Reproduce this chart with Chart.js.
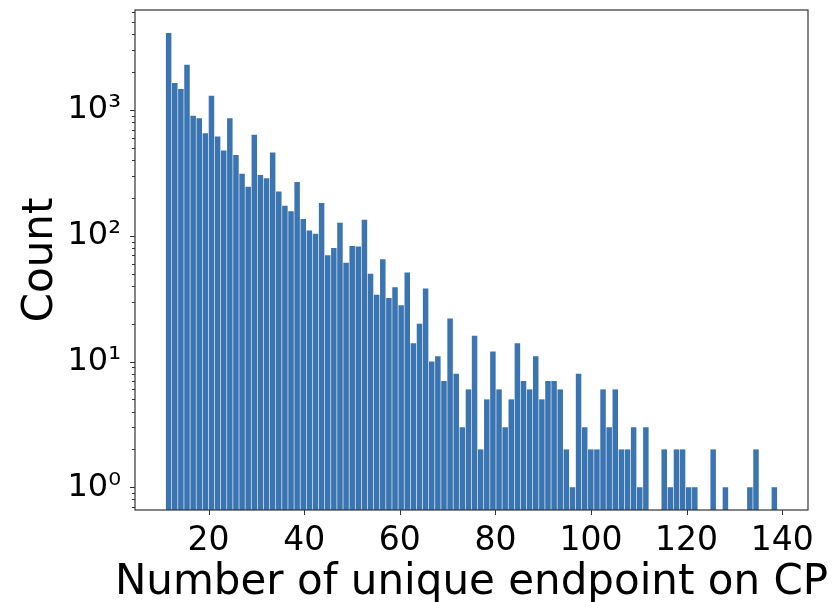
<!DOCTYPE html>
<html>
<head>
<meta charset="utf-8">
<script src="https://cdn.jsdelivr.net/npm/chart.js@4.4.0/dist/chart.umd.min.js"></script>
<style>
  html, body { margin: 0; padding: 0; background: #fff; }
  #wrap { width: 832px; height: 602px; }
</style>
</head>
<body>
<div id="wrap"><canvas id="endpoint-hist" width="832" height="602"></canvas></div>
<script>
  // histogram: 100 bins between 11 and 139
  const binLow = 11;
  const binHigh = 139;
  const nBins = 100;

  const counts = [
    4100, 1640, 1470, 2290, 900, 860, 655, 1300, 615, 476,
    861, 440, 311, 246, 635, 305, 287, 459, 225, 173,
    157, 268, 136, 110, 104, 182, 70, 80, 127, 61,
    83, 82, 134, 50, 34, 65, 32, 39, 28, 51,
    14, 20, 38, 10, 11, 7, 22, 8, 3, 6,
    16, 2, 5, 12, 6, 3, 5, 14, 7, 6,
    11, 5, 7, 7, 6, 2, 1, 8, 3, 2,
    2, 6, 3, 6, 2, 2, 3, 1, 3, 0,
    0, 2, 1, 2, 2, 1, 1, 0, 0, 2,
    0, 1, 0, 0, 0, 1, 2, 0, 0, 1
  ];

  const xTicks = [20, 40, 60, 80, 100, 120, 140];
  const yTicks = [1, 10, 100, 1000];
  const yTickLabels = ['10\u2070', '10\u00b9', '10\u00b2', '10\u00b3'];

  const xTitle = 'Number of unique endpoint on CP';
  const yTitle = 'Count';

  const binWidth = (binHigh - binLow) / nBins;
  const binCenters = counts.map((c, i) => binLow + binWidth * (i + 0.5));

  const FONT = "'DejaVu Sans', sans-serif";
  const barColor = 'rgb(58, 117, 178)';

  function noScalePadding(scale) {
    scale.paddingTop = 0;
    scale.paddingBottom = 0;
    scale.paddingLeft = 0;
    scale.paddingRight = 0;
  }

  // frame, tick marks and axis titles, matplotlib style
  const mplAxes = {
    id: 'mplAxes',
    afterDraw(chart) {
      const c = chart.ctx;
      const a = chart.chartArea;
      const xs = chart.scales.x;
      const ys = chart.scales.y;
      c.save();
      c.strokeStyle = '#333';
      c.lineWidth = 1.2;
      c.strokeRect(a.left, a.top, a.right - a.left, a.bottom - a.top);

      c.lineWidth = 1;
      c.beginPath();
      xTicks.forEach(v => {
        const px = Math.round(xs.getPixelForValue(v)) + 0.5;
        c.moveTo(px, a.bottom);
        c.lineTo(px, a.bottom + 5);
      });
      for (let k = -1; k <= 3; k++) {
        for (let m = 1; m <= 9; m++) {
          const v = m * Math.pow(10, k);
          if (v < ys.min || v > ys.max) continue;
          const py = Math.round(ys.getPixelForValue(v)) + 0.5;
          c.moveTo(a.left, py);
          c.lineTo(a.left - (m === 1 ? 5 : 3), py);
        }
      }
      c.stroke();

      c.fillStyle = '#000';
      c.font = '42px ' + FONT;
      c.textAlign = 'center';
      c.textBaseline = 'alphabetic';
      c.fillText(xTitle, (a.left + a.right) / 2, 594);

      c.translate(52, (a.top + a.bottom) / 2);
      c.rotate(-Math.PI / 2);
      c.fillText(yTitle, 0, 0);
      c.restore();
    }
  };

  new Chart(document.getElementById('endpoint-hist'), {
    type: 'bar',
    data: {
      labels: binCenters,
      datasets: [{
        data: binCenters.map((x, i) => ({ x: x, y: counts[i] })),
        backgroundColor: barColor,
        borderWidth: 0,
        barPercentage: 0.9,
        categoryPercentage: 1.0
      }]
    },
    options: {
      responsive: false,
      animation: false,
      events: [],
      layout: { padding: { top: 10, right: 24, left: 0, bottom: 0 } },
      plugins: { legend: { display: false }, tooltip: { enabled: false } },
      scales: {
        x: {
          type: 'linear',
          offset: false,
          min: 4.6,
          max: 145.4,
          grid: { display: false, drawTicks: false, offset: false },
          border: { display: false },
          afterBuildTicks: (scale) => { scale.ticks = xTicks.map(v => ({ value: v })); },
          afterFit: (scale) => { scale.height = 92; noScalePadding(scale); },
          ticks: {
            autoSkip: false,
            maxRotation: 0,
            padding: 12,
            color: '#000',
            font: { family: FONT, size: 33 },
            callback: (v) => String(v)
          }
        },
        y: {
          type: 'logarithmic',
          min: 0.659,
          max: 6250,
          grid: { display: false, drawTicks: false },
          border: { display: false },
          afterBuildTicks: (scale) => { scale.ticks = yTicks.map(v => ({ value: v })); },
          afterFit: (scale) => { scale.width = 135; noScalePadding(scale); },
          ticks: {
            autoSkip: false,
            padding: 14,
            color: '#000',
            font: { family: FONT, size: 32 },
            callback: (v) => {
              const i = yTicks.indexOf(v);
              return i >= 0 ? yTickLabels[i] : '';
            }
          }
        }
      }
    },
    plugins: [mplAxes]
  });
</script>
</body>
</html>
